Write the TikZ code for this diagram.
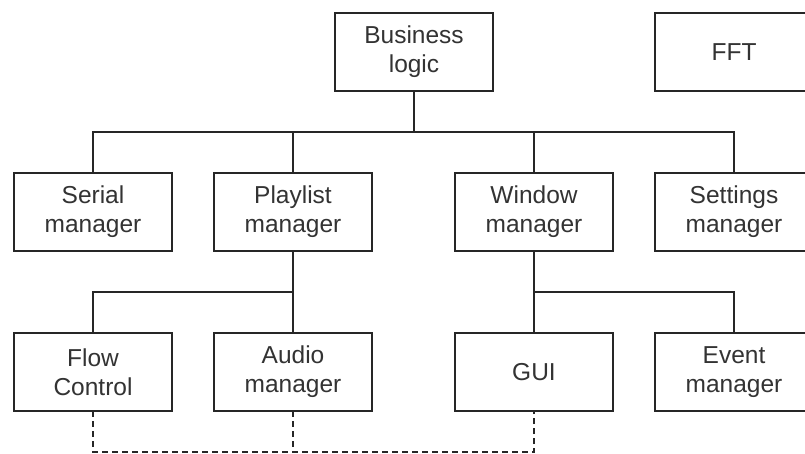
\documentclass[tikz,border=0pt]{standalone}
\usepackage{fontspec}
\setmainfont{Liberation Sans}
\begin{document}
\begin{tikzpicture}[x=1pt,y=-1pt,
  box/.style={draw=black!85,line width=1.6pt,rectangle,minimum width=158pt,minimum height=78pt,
    inner sep=0pt,outer sep=0pt,align=center,text=black!80,
    font=\fontsize{24.5}{29}\selectfont},
  link/.style={draw=black!85,line width=1.6pt},
  dlink/.style={draw=black!85,line width=1.4pt,dash pattern=on 6pt off 4pt}]
\useasboundingbox (0,0) rectangle (805,454);
\clip (0,0) rectangle (805,454);
\fill[white] (0,0) rectangle (805,454);
\node[box] (biz) at (414,52) {Business\\logic};
\node[box] (fft) at (734,52) {FFT};
\node[box] (ser) at (93,212) {Serial\\manager};
\node[box] (play) at (293,212) {Playlist\\manager};
\node[box] (win) at (534,212) {Window\\manager};
\node[box] (set) at (734,212) {Settings\\manager};
\node[box] (flow) at (93,372) {Flow\\Control};
\node[box] (aud) at (293,372) {Audio\\manager};
\node[box] (gui) at (534,372) {GUI};
\node[box] (evt) at (734,372) {Event\\manager};
\coordinate (b1) at (414,132);
\coordinate (b2) at (0,292);
\coordinate (b3) at (0,452);
\draw[link] (biz.south) -- (b1);
\draw[link] (ser.north) -- (ser.north|-b1) -- (set.north|-b1) -- (set.north);
\draw[link] (play.north) -- (play.north|-b1);
\draw[link] (win.north) -- (win.north|-b1);
\draw[link] (play.south) -- (play.south|-b2);
\draw[link] (flow.north) -- (flow.north|-b2) -- (aud.north|-b2) -- (aud.north);
\draw[link] (win.south) -- (win.south|-b2);
\draw[link] (gui.north) -- (gui.north|-b2) -- (evt.north|-b2) -- (evt.north);
\draw[dlink] (flow.south) -- (flow.south|-b3) -- (gui.south|-b3) -- (gui.south);
\draw[dlink] (aud.south) -- (aud.south|-b3);
\end{tikzpicture}
\end{document}
